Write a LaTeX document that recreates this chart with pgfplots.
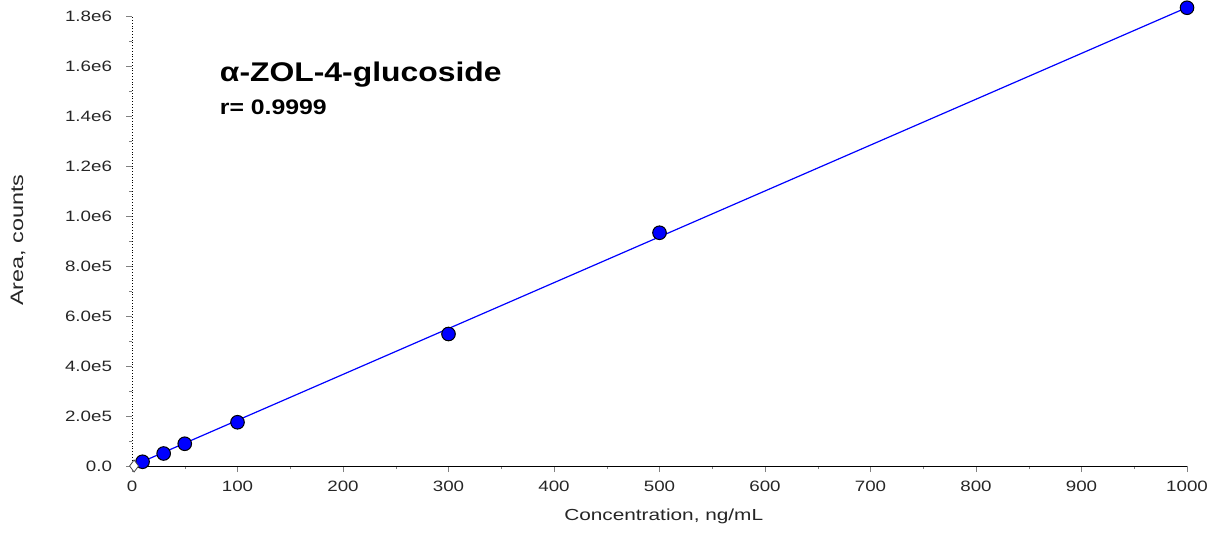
\documentclass[border=0pt]{standalone}
\usepackage{pgfplots}
\pgfplotsset{compat=1.18}
\usepackage{fontspec}
\setmainfont{Liberation Sans}
\newfontfamily\tickfont[FakeStretch=1.25]{Liberation Sans}
\newfontfamily\labfont[FakeStretch=1.3]{Liberation Sans}
\newfontfamily\titlefont[FakeStretch=1.18]{Liberation Sans}
\begin{document}
\begin{tikzpicture}
\useasboundingbox (0,0) rectangle (612pt,270pt);
\begin{axis}[
  at={(66pt,37pt)}, anchor=south west,
  scale only axis, width=527.5pt, height=225pt,
  xmin=0, xmax=1000, ymin=0, ymax=1.8e6,
  axis x line*=bottom, axis y line*=left,
  y axis line style={densely dotted, thin},
  x axis line style={thin},
  tick align=outside,
  major tick length=3pt, minor tick length=1.5pt,
  xtick={0,100,...,1000}, minor x tick num=1,
  ytick={0,2e5,4e5,6e5,8e5,1e6,1.2e6,1.4e6,1.6e6,1.8e6},
  minor y tick num=1,
  yticklabels={0.0,2.0e5,4.0e5,6.0e5,8.0e5,1.0e6,1.2e6,1.4e6,1.6e6,1.8e6},
  scaled y ticks=false,
  /pgf/number format/1000 sep={},
  /pgf/number format/assume math mode=true,
  tick label style={font=\tickfont\fontsize{7.5}{9}\selectfont, black!85},
  xticklabel style={yshift=-1pt},
  yticklabel style={xshift=-3.5pt},
  xlabel={Concentration, ng/mL}, ylabel={Area, counts},
  xlabel style={font=\labfont\fontsize{8}{9}\selectfont, black!85, at={(axis description cs:0.504,-0.113)}, anchor=center},
  ylabel style={font=\labfont\fontsize{9}{10}\selectfont, black!85, at={(axis description cs:-0.108,0.502)}, anchor=center},
  clip=false,
]
\addplot[blue, line width=0.6pt] coordinates {(1,1300) (1000,1.834e6)};
\addplot[only marks, mark=*, mark size=3.4pt, mark options={fill=blue, draw=black, line width=0.5pt}]
  coordinates {(10,1.7e4) (30,5.0e4) (50,8.9e4) (100,1.75e5) (300,5.28e5) (500,9.33e5) (1000,1.833e6)};
\addplot[only marks, mark=diamond*, mark size=3pt, mark options={fill=white, draw=black!70, line width=0.4pt}]
  coordinates {(2,0)};
\node[anchor=base west, inner sep=0pt, font=\titlefont\fontsize{13.5}{15}\selectfont\bfseries] at (axis cs:83,1.536e6) {α-ZOL-4-glucoside};
\node[anchor=base west, inner sep=0pt, font=\titlefont\fontsize{10.5}{12}\selectfont\bfseries] at (axis cs:83,1.404e6) {r= 0.9999};
\end{axis}
\end{tikzpicture}
\end{document}
